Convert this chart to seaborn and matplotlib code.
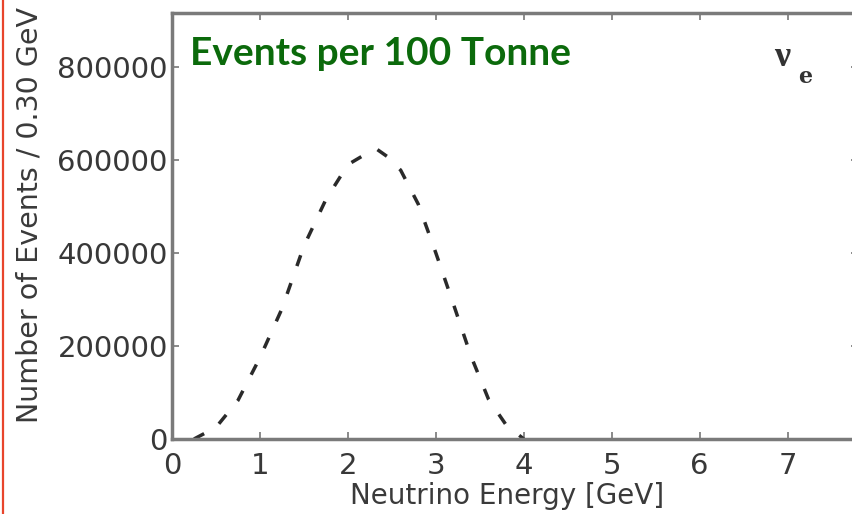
import matplotlib
matplotlib.use("Agg")
import matplotlib.pyplot as plt
import matplotlib.lines as mlines
import seaborn as sns
import pandas as pd

# Electron-neutrino event spectrum
energy_gev = [0.25, 0.5, 0.75, 1.0, 1.25, 1.5, 1.75, 2.0, 2.25, 2.33, 2.45, 2.6, 2.8,
              3.0, 3.2, 3.4, 3.6, 3.8, 4.0]
events = [0, 25000, 83000, 175000, 280000, 415000, 515000, 590000, 618000, 623000,
          607000, 578000, 505000, 400000, 290000, 178000, 85000, 30000, 0]

x_ticks = [0, 1, 2, 3, 4, 5, 6, 7]
y_ticks = [0, 200000, 400000, 600000, 800000]

sns.set_style("ticks")
plt.rcParams["font.family"] = ["DejaVu Sans"]

fig = plt.figure(figsize=(8.52, 5.14), dpi=100)
ax = fig.add_axes([172 / 852, 75 / 514, 686 / 852, 426 / 514])

df = pd.DataFrame({"energy": energy_gev, "events": events})
sns.lineplot(data=df, x="energy", y="events", ax=ax, color="#2a2a2a",
             linewidth=2.5, linestyle=(0, (3.3, 5.2)))

ax.set_xlim(0, 7.8)
ax.set_ylim(0, 916000)
ax.set_xticks(x_ticks)
ax.set_yticks(y_ticks)
ax.set_xticklabels([str(t) for t in x_ticks])
ax.set_yticklabels([str(t) for t in y_ticks])

ax.tick_params(direction="in", length=5, width=1.2, colors="#777777",
               labelcolor="#383838", labelsize=21, top=True, right=True, pad=3)
ax.tick_params(axis="x", pad=9)
for s in ax.spines.values():
    s.set_color("#7a7a7a")
    s.set_linewidth(2.5)

ax.set_xlabel("Neutrino Energy [GeV]", fontsize=20, color="#3a3a3a")
ax.set_ylabel("Number of Events / 0.30 GeV", fontsize=20.5, color="#3a3a3a")
ax.xaxis.set_label_coords(0.488, -0.101)
ax.yaxis.set_label_coords(-0.188, 0.526)

ax.text(0.026, 0.905, "Events per 100 Tonne", transform=ax.transAxes,
        fontsize=28, fontweight="bold", color="#0b6a0b", family="Lato",
        va="center", ha="left")
# flavour label: upright nu with a subscript e
ax.text(0.878, 0.875, "ν", transform=ax.transAxes, fontsize=26,
        family="Liberation Serif", fontweight="bold", color="#333333",
        va="baseline", ha="left")
ax.text(0.912, 0.835, "e", transform=ax.transAxes, fontsize=16,
        family="DejaVu Serif", fontweight="bold", color="#333333",
        va="baseline", ha="left")

# red border on the left edge of the slide
fig.add_artist(mlines.Line2D([2.5 / 852, 2.5 / 852], [0, 1], color="#e8452c",
                             linewidth=1.6, transform=fig.transFigure))

fig.savefig("out.png", dpi=100)
